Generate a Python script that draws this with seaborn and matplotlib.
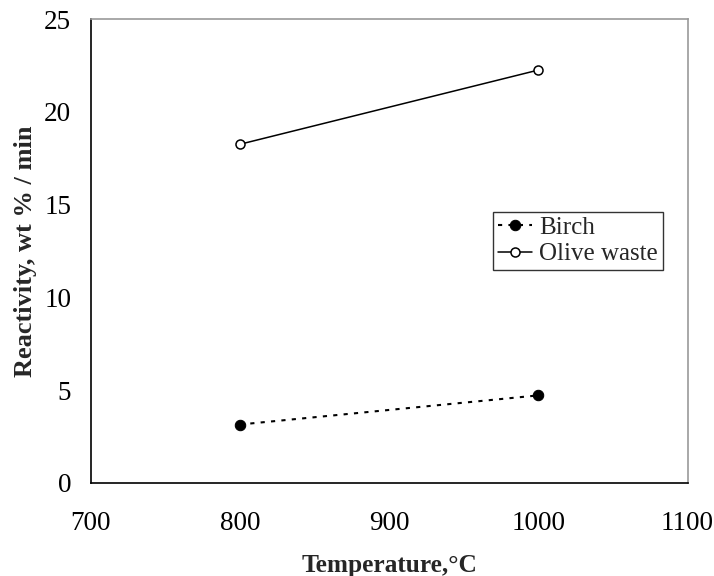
import matplotlib
matplotlib.use("Agg")
import matplotlib.pyplot as plt
import seaborn as sns
import pandas as pd

temperature = [800, 1000]
birch = [3.15, 4.72]
olive_waste = [18.25, 22.25]
series_names = ["Birch", "Olive waste"]
x_ticks = [700, 800, 900, 1000, 1100]
y_ticks = [0, 5, 10, 15, 20, 25]

sns.set_theme(style="white")
plt.rcParams['font.family'] = ['Liberation Serif', 'DejaVu Serif']

df_b = pd.DataFrame({"T": temperature, "R": birch})
df_o = pd.DataFrame({"T": temperature, "R": olive_waste})

fig = plt.figure(figsize=(7.14, 5.76), dpi=100)
ax = fig.add_axes([0.127, 0.1615, 0.836, 0.8055])

sns.lineplot(data=df_b, x="T", y="R", ax=ax, color="black", marker="o",
             markersize=7.5, markerfacecolor="black", markeredgecolor="black",
             linestyle=(0, (2, 3)), linewidth=1.5, label=series_names[0])
sns.lineplot(data=df_o, x="T", y="R", ax=ax, color="black", marker="o",
             markersize=6.5, markerfacecolor="white", markeredgecolor="black",
             markeredgewidth=1.1, linestyle="-", linewidth=1.1, label=series_names[1])

ax.set_xlim(700, 1100)
ax.set_ylim(0, 25)
ax.set_xticks(x_ticks)
ax.set_yticks(y_ticks)
ax.tick_params(axis="both", which="both", direction="out", length=6, width=1,
               labelsize=19.5, colors="black")
ax.tick_params(axis="x", pad=14)
ax.tick_params(axis="y", pad=8)

for s in ["left", "bottom"]:
    ax.spines[s].set_color("black")
    ax.spines[s].set_linewidth(1.2)
for s in ["top", "right"]:
    ax.spines[s].set_color("#999999")
    ax.spines[s].set_linewidth(1.2)

ax.set_xlabel("Temperature,°C", fontsize=18.3, fontweight="bold", labelpad=13)
ax.set_ylabel("Reactivity, wt % / min", fontsize=19, fontweight="bold", labelpad=5)

leg = ax.legend(loc="upper left", bbox_to_anchor=(0.674, 0.585), frameon=True,
                fancybox=False, fontsize=18, handlelength=1.35, handletextpad=0.3,
                borderpad=0.2, labelspacing=0.15, borderaxespad=0)
leg.get_frame().set_edgecolor("black")
leg.get_frame().set_linewidth(1.0)

fig.savefig("out.png", dpi=100)
